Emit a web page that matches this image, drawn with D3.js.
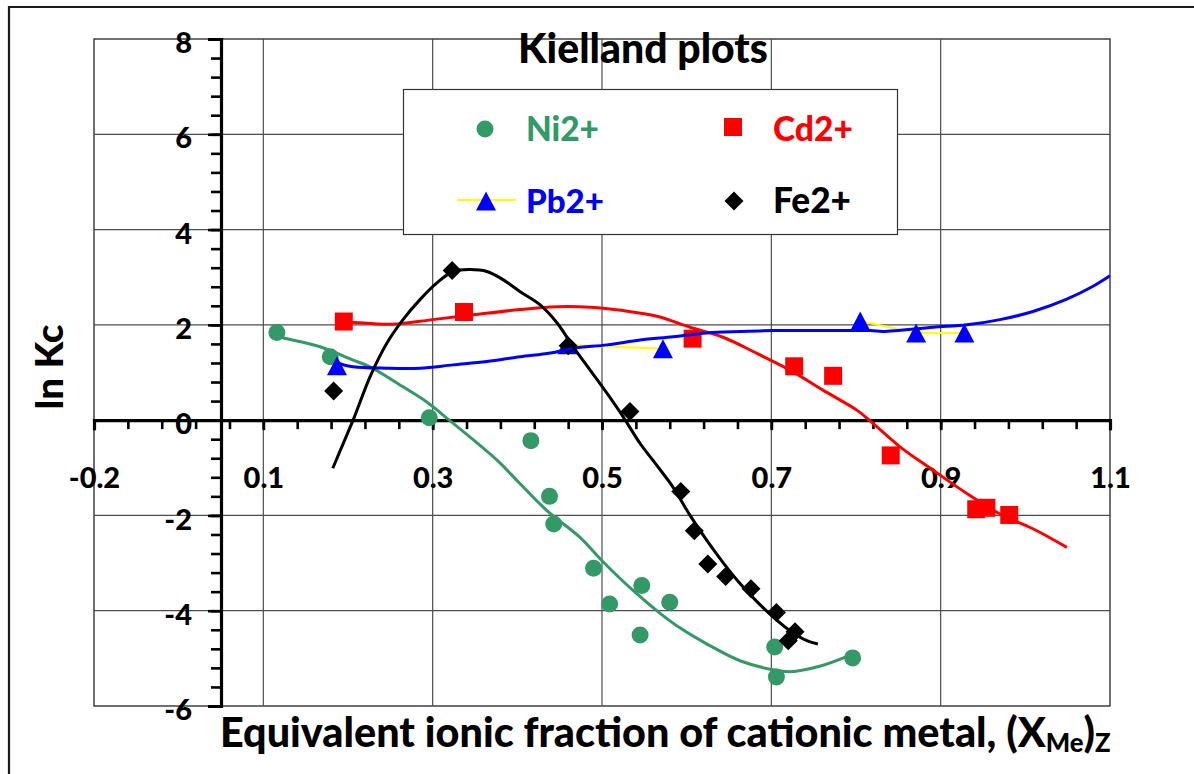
<!DOCTYPE html>
<html><head><meta charset="utf-8">
<script src="https://cdn.jsdelivr.net/npm/d3@7"></script>
<style>
html,body{margin:0;padding:0;background:#fff;}
svg{display:block;font-family:Lato,"Open Sans",sans-serif;font-weight:900;}
</style>
</head><body>
<svg id="chart" width="1194" height="774"></svg>
<script>
// ---------- data ----------
const xTickValues = [-0.15, 0.05, 0.25, 0.45, 0.65, 0.85, 1.05];
const xTickLabels = ["-0.2", "0.1", "0.3", "0.5", "0.7", "0.9", "1.1"];
const yTickValues = [-6, -4, -2, 0, 2, 4, 6, 8];
const yTickLabels = ["-6", "-4", "-2", "0", "2", "4", "6", "8"];
const seriesNames = ["Ni2+", "Cd2+", "Pb2+", "Fe2+"];

const niX = [0.066, 0.129, 0.246, 0.366, 0.388, 0.393, 0.440, 0.459, 0.497, 0.495, 0.530, 0.654, 0.656, 0.746];
const niY = [1.84, 1.33, 0.05, -0.43, -1.60, -2.18, -3.11, -3.86, -3.47, -4.51, -3.82, -4.76, -5.39, -4.99];
const cdX = [0.145, 0.287, 0.557, 0.677, 0.723, 0.791, 0.892, 0.904, 0.931];
const cdY = [2.07, 2.27, 1.71, 1.13, 0.93, -0.74, -1.87, -1.84, -1.99];
const pbX = [0.137, 0.409, 0.522, 0.755, 0.821, 0.878];
const pbY = [1.14, 1.58, 1.50, 2.08, 1.83, 1.83];
// Pb points joined by the yellow connecting line (runs of point indices)
const pbLineRuns = [[1, 2], [3, 4, 5]];
const feX = [0.133, 0.273, 0.410, 0.483, 0.543, 0.559, 0.575, 0.596, 0.626, 0.656, 0.670, 0.678];
const feY = [0.61, 3.14, 1.56, 0.18, -1.50, -2.32, -3.02, -3.28, -3.54, -4.04, -4.63, -4.44];

// trendlines
const niTrendX = [0.066, 0.073, 0.117, 0.156, 0.176, 0.215, 0.243, 0.271, 0.326, 0.353, 0.385, 0.424, 0.450, 0.487, 0.519, 0.542, 0.574, 0.613, 0.652, 0.672, 0.708, 0.746];
const niTrendY = [1.77, 1.73, 1.54, 1.26, 1.12, 0.70, 0.38, -0.02, -0.84, -1.33, -1.90, -2.46, -2.95, -3.58, -4.06, -4.36, -4.70, -5.05, -5.24, -5.28, -5.16, -4.91];
const cdTrendX = [0.145, 0.184, 0.208, 0.250, 0.298, 0.353, 0.397, 0.436, 0.475, 0.515, 0.554, 0.593, 0.633, 0.672, 0.711, 0.751, 0.767, 0.802, 0.841, 0.881, 0.920, 0.959, 0.999];
const cdTrendY = [2.07, 2.02, 2.02, 2.11, 2.21, 2.32, 2.38, 2.37, 2.30, 2.18, 1.95, 1.74, 1.40, 1.05, 0.63, 0.21, -0.02, -0.56, -1.05, -1.54, -1.97, -2.28, -2.67];
const pbTrendX = [0.137, 0.156, 0.196, 0.235, 0.274, 0.314, 0.353, 0.389, 0.416, 0.456, 0.495, 0.534, 0.574, 0.613, 0.652, 0.700, 0.767, 0.782, 0.841, 0.881, 0.920, 0.959, 0.999, 1.030, 1.050];
const pbTrendY = [1.20, 1.12, 1.09, 1.09, 1.16, 1.23, 1.33, 1.41, 1.51, 1.58, 1.68, 1.75, 1.83, 1.86, 1.88, 1.88, 1.88, 1.86, 1.95, 2.00, 2.11, 2.28, 2.54, 2.81, 3.03];
const feTrendX = [0.132, 0.141, 0.156, 0.176, 0.196, 0.215, 0.235, 0.255, 0.274, 0.294, 0.314, 0.333, 0.353, 0.377, 0.397, 0.416, 0.436, 0.456, 0.475, 0.495, 0.510, 0.534, 0.554, 0.574, 0.593, 0.613, 0.633, 0.652, 0.672, 0.692, 0.705];
const feTrendY = [-1.01, -0.63, 0.00, 0.91, 1.62, 2.11, 2.53, 2.88, 3.12, 3.16, 3.12, 2.95, 2.70, 2.42, 2.04, 1.54, 1.05, 0.56, 0.07, -0.49, -0.84, -1.41, -2.00, -2.53, -2.99, -3.43, -3.81, -4.13, -4.42, -4.63, -4.70];

// ---------- layout ----------
const svg = d3.select("#chart");
const plot = {left: 94, right: 1110, top: 39, bottom: 706};
const x = d3.scaleLinear().domain([-0.15, 1.05]).range([plot.left, plot.right]);
const y = d3.scaleLinear().domain([-6, 8]).range([plot.bottom, plot.top]);

const colNi = "#339966", colCd = "#ff0000", colPb = "#0000ff", colFe = "#000000", colPbLine = "#ffff00";
const FONT = "Lato", WEIGHT = 900;

// outer chart border
svg.append("path").attr("d", "M9,800 L9,7 L1200,7")
  .attr("fill", "none").attr("stroke", "#1a1a1a").attr("stroke-width", 2.2);

// plot area
svg.append("rect").attr("x", plot.left).attr("y", plot.top)
  .attr("width", plot.right - plot.left).attr("height", plot.bottom - plot.top)
  .attr("fill", "#fff").attr("stroke", "#111").attr("stroke-width", 1.2);

// gridlines
svg.append("g").selectAll("line").data(xTickValues.slice(1, -1)).join("line")
  .attr("x1", d => x(d)).attr("x2", d => x(d)).attr("y1", plot.top).attr("y2", plot.bottom)
  .attr("stroke", "#4d4d4d").attr("stroke-width", 1.2);
svg.append("g").selectAll("line").data(yTickValues.slice(1, -1)).join("line")
  .attr("x1", plot.left).attr("x2", plot.right).attr("y1", d => y(d)).attr("y2", d => y(d))
  .attr("stroke", "#4d4d4d").attr("stroke-width", 1.2);

// y axis (at x = 0)
const yMinor = d3.range(-6, 8.0001, 0.4);
svg.append("g").attr("transform", `translate(${x(0)},0)`)
  .call(d3.axisLeft(y).tickValues(yMinor).tickSize(10).tickFormat(""))
  .call(g => g.select(".domain").remove())
  .call(g => g.selectAll("line").attr("stroke", "#000").attr("stroke-width", 2.6));
svg.append("g").attr("transform", `translate(${x(0)},0)`)
  .call(d3.axisLeft(y).tickValues(yTickValues).tickSize(13).tickPadding(16)
    .tickFormat((d, i) => yTickLabels[i]))
  .call(g => g.select(".domain").attr("stroke", "#000").attr("stroke-width", 3.2))
  .call(g => g.selectAll("line").attr("stroke", "#000").attr("stroke-width", 2.6))
  .call(g => g.selectAll("text").attr("font-family", FONT).attr("font-weight", WEIGHT)
    .attr("font-size", 29).attr("fill", "#000").attr("dy", "0.47em"));

// x axis (at y = 0)
const xMinor = d3.range(-0.15, 1.0501, 0.04);
svg.append("g").attr("transform", `translate(0,${y(0)})`)
  .call(d3.axisBottom(x).tickValues(xMinor).tickSize(9).tickFormat(""))
  .call(g => g.select(".domain").remove())
  .call(g => g.selectAll("line").attr("stroke", "#000").attr("stroke-width", 2.6));
svg.append("g").attr("transform", `translate(0,${y(0)})`)
  .call(d3.axisBottom(x).tickValues(xTickValues).tickSize(10).tickPadding(37)
    .tickFormat((d, i) => xTickLabels[i]))
  .call(g => g.select(".domain").attr("stroke", "#000").attr("stroke-width", 3.2))
  .call(g => g.selectAll("line").attr("stroke", "#000").attr("stroke-width", 2.6))
  .call(g => g.selectAll("text").attr("font-family", FONT).attr("font-weight", WEIGHT)
    .attr("font-size", 29).attr("fill", "#000"));

// clip
svg.append("clipPath").attr("id", "clip").append("rect")
  .attr("x", plot.left).attr("y", plot.top).attr("width", plot.right - plot.left).attr("height", plot.bottom - plot.top);

const zip = (xs, ys) => xs.map((v, i) => [v, ys[i]]);
const line = d3.line().x(d => x(d[0])).y(d => y(d[1]));
const smooth = d3.line().x(d => x(d[0])).y(d => y(d[1])).curve(d3.curveCatmullRom.alpha(0.5));

const series = svg.append("g").attr("clip-path", "url(#clip)");

// marker shapes
const circlePath = r => `M${-r},0 A${r},${r} 0 1,0 ${r},0 A${r},${r} 0 1,0 ${-r},0Z`;
const squarePath = s => `M${-s/2},${-s/2}H${s/2}V${s/2}H${-s/2}Z`;
const trianglePath = (w, h) => `M0,${-h/2}L${w/2},${h/2}L${-w/2},${h/2}Z`;
const diamondPath = s => `M0,${-s/2}L${s/2},0L0,${s/2}L${-s/2},0Z`;

function markers(xs, ys, d, color) {
  series.append("g").selectAll("path").data(zip(xs, ys)).join("path")
    .attr("transform", p => `translate(${x(p[0])},${y(p[1])})`)
    .attr("d", d).attr("fill", color);
}
// Pb connecting line (yellow)
const pbPts = zip(pbX, pbY);
pbLineRuns.forEach(run => {
  series.append("path").attr("d", line(run.map(i => pbPts[i]))).attr("fill", "none")
    .attr("stroke", colPbLine).attr("stroke-width", 2);
});

markers(niX, niY, circlePath(8.5), colNi);
markers(cdX, cdY, squarePath(18), colCd);
markers(pbX, pbY, trianglePath(20, 19), colPb);
markers(feX, feY, diamondPath(19), colFe);

function trend(xs, ys, color) {
  series.append("path").attr("d", smooth(zip(xs, ys))).attr("fill", "none")
    .attr("stroke", color).attr("stroke-width", 3).attr("stroke-linejoin", "round");
}
trend(niTrendX, niTrendY, colNi);
trend(cdTrendX, cdTrendY, colCd);
trend(pbTrendX, pbTrendY, colPb);
trend(feTrendX, feTrendY, colFe);

// text fitting helper
function fit(sel, w) {
  const n = sel.node();
  const fs = parseFloat(sel.attr("font-size"));
  const cur = n.getComputedTextLength();
  sel.attr("font-size", fs * w / cur);
  return sel;
}

// title
const title = svg.append("text").attr("x", 643).attr("y", 63).attr("text-anchor", "middle")
  .attr("font-family", FONT).attr("font-weight", WEIGHT)
  .attr("font-size", 34).attr("fill", "#000").text("Kielland plots");
fit(title, 250);

// legend
const lg = svg.append("g");
lg.append("rect").attr("x", 403.5).attr("y", 89.5).attr("width", 494).attr("height", 145)
  .attr("fill", "#fff").attr("stroke", "#333").attr("stroke-width", 1.2);
const legendItems = [
  {name: seriesNames[0], color: colNi, mx: 485, my: 129, tx: 526, ty: 141, w: 73, d: circlePath(8.5)},
  {name: seriesNames[1], color: colCd, mx: 733, my: 127, tx: 773, ty: 141, w: 80, d: squarePath(18)},
  {name: seriesNames[2], color: colPb, mx: 486, my: 201, tx: 526, ty: 213, w: 78, d: trianglePath(20, 19)},
  {name: seriesNames[3], color: colFe, mx: 734, my: 201, tx: 773, ty: 213, w: 78, d: diamondPath(19)}
];
lg.append("line").attr("x1", 457).attr("x2", 516).attr("y1", 200).attr("y2", 200)
  .attr("stroke", colPbLine).attr("stroke-width", 2);
legendItems.forEach(it => {
  lg.append("path").attr("transform", `translate(${it.mx},${it.my})`).attr("d", it.d).attr("fill", it.color);
  const t = lg.append("text").attr("x", it.tx).attr("y", it.ty).attr("font-size", 34)
    .attr("font-family", FONT).attr("font-weight", WEIGHT)
    .attr("fill", it.color).text(it.name);
  fit(t, it.w);
});

// y axis title
const yt = svg.append("text").attr("transform", "translate(63,367) rotate(-90)")
  .attr("text-anchor", "middle").attr("font-family", FONT).attr("font-weight", WEIGHT)
  .attr("font-size", 38).attr("fill", "#000").text("ln Kc");
fit(yt, 85);

// x axis title
const xt = svg.append("text").attr("x", 220).attr("y", 747).attr("font-size", 34)
  .attr("font-family", FONT).attr("font-weight", WEIGHT).attr("fill", "#000");
xt.append("tspan").text("Equivalent ionic fraction of cationic metal, (X");
xt.append("tspan").attr("font-size", "62%").attr("dy", "0.2em").text("Me");
xt.append("tspan").attr("dy", "-0.124em").text(")");
xt.append("tspan").attr("font-size", "62%").attr("dy", "0.2em").text("Z");
fit(xt, 891);
</script>
</body></html>
